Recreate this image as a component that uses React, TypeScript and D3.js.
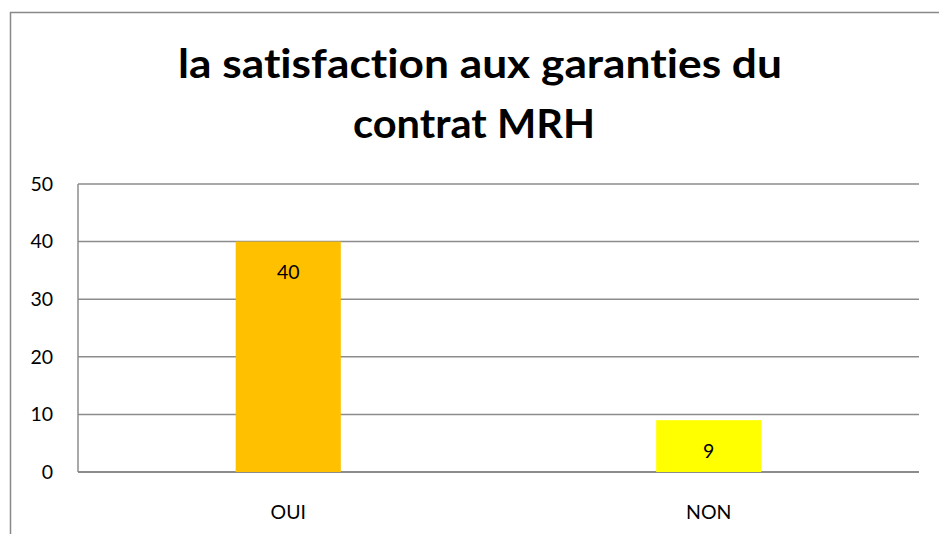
import React from "react";
import * as d3 from "d3";

const categories = ["OUI", "NON"];
const values = [40, 9];
const barColors = ["#FFC000", "#FFFF00"];
const yTicks = [0, 10, 20, 30, 40, 50];
const titleLines = ["la satisfaction aux garanties du", "contrat MRH"];

export default function App() {
  const W = 939, H = 534;
  const left = 78, right = 919, top = 184, bottom = 472;
  const y = d3.scaleLinear().domain([0, 50]).range([bottom, top]);
  const x = d3.scaleBand().domain(categories).range([left, right]).paddingInner(0.75).paddingOuter(0.375);
  const font = "Lato, 'Open Sans', sans-serif";
  const titlePos = [
    { x: 480, y: 78, w: 604 },
    { x: 474, y: 138, w: 242 },
  ];
  return (
    <svg width={W} height={H} style={{ position: "absolute", left: 0, top: 0, background: "#fff", fontVariantLigatures: "none" }}>
      <rect x={10.5} y={12.5} width={W + 20} height={H + 20} fill="#fff" stroke="#898989" strokeWidth={1.5} />
      {titleLines.map((t, i) => (
        <text key={i} x={titlePos[i].x} y={titlePos[i].y} textAnchor="middle" fontFamily={font} fontWeight="bold" fontSize={41} fill="#000" textLength={titlePos[i].w} lengthAdjust="spacingAndGlyphs" style={{ fontVariantLigatures: "none" }}>{t}</text>
      ))}
      {yTicks.map((t) => (
        <g key={t}>
          <line x1={left} x2={right} y1={y(t)} y2={y(t)} stroke="#8c8c8c" strokeWidth={t === 0 ? 2 : 1.5} />
          <text x={53} y={y(t)} dy="0.35em" textAnchor="end" fontFamily={font} fontSize={19.5} fill="#000">{t}</text>
        </g>
      ))}
      <line x1={left} x2={left} y1={top} y2={bottom} stroke="#8c8c8c" strokeWidth={1.5} />
      {categories.map((c, i) => (
        <g key={c}>
          <rect x={x(c)} y={y(values[i])} width={x.bandwidth()} height={bottom - y(values[i])} fill={barColors[i]} />
          <text x={x(c)! + x.bandwidth() / 2} y={y(values[i]) + 31} dy="0.35em" textAnchor="middle" fontFamily={font} fontSize={19.5} fill="#000">{values[i]}</text>
          <text x={x(c)! + x.bandwidth() / 2} y={512} dy="0.35em" textAnchor="middle" fontFamily={font} fontSize={19.5} fill="#000">{c}</text>
        </g>
      ))}
    </svg>
  );
}
